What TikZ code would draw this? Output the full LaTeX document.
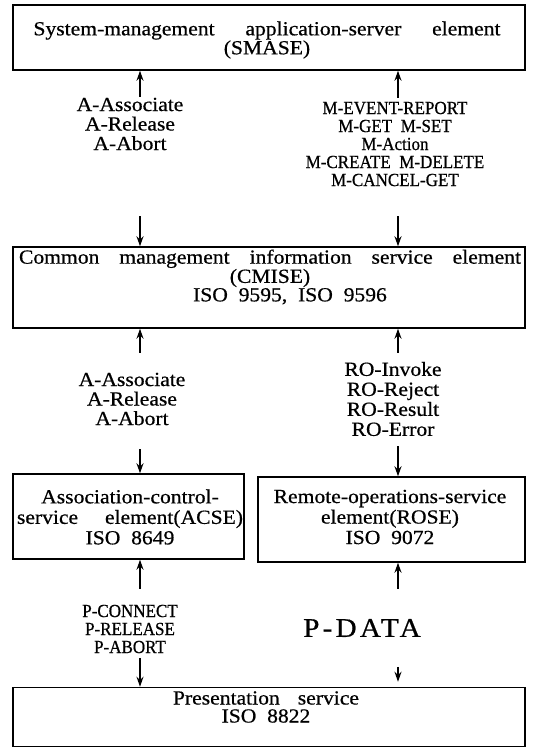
\documentclass[tikz,border=0pt]{standalone}
\usepackage{fontspec}
\setmainfont[FakeStretch=1.08,FakeBold=0.6]{Liberation Serif}
\newfontfamily\capfont[FakeStretch=0.92,FakeBold=0.6]{Liberation Serif}
\usetikzlibrary{arrows.meta,calc}
\begin{document}
\begin{tikzpicture}[x=1pt,y=-1pt,>={Stealth[length=10pt,width=7pt]},line width=1.4pt,
    blk/.style={draw,line width=1.5pt,inner sep=0pt},
    txt/.style={inner sep=0pt,align=center,font=\fontsize{20}{#1}\selectfont},
    txt/.default=18,
    capstxt/.style={inner sep=0pt,align=center,font=\capfont\fontsize{18.5}{#1}\selectfont},
    capstxt/.default=18]
    \useasboundingbox (0,0) rectangle (534,748);
    \coordinate (xl) at (140,0);
    \coordinate (xr) at (398,0);
    % boxes
    \node[blk,minimum width=512pt,minimum height=65pt] (smase) at (269,37.5) {};
    \node[blk,minimum width=512pt,minimum height=81pt] (cmise) at (269,287.5) {};
    \node[blk,minimum width=231pt,minimum height=85pt] (acse) at (128.5,516.5) {};
    \node[blk,minimum width=267pt,minimum height=85pt] (rose) at (391.5,519.5) {};
    \node[blk,minimum width=512pt,minimum height=59pt] (pres) at (269,717) {};
    \node[txt=19] (smasetxt) at (267,40) {\makebox[467pt][s]{System-management application-server element}\\(SMASE)};
    \node[txt=16] (cmisetxt) at (270,277) {\makebox[502pt][s]{Common management information service element}\\(CMISE)\\\hspace*{40pt}ISO\ \ 9595,\ \ ISO\ \ 9596};
    \node[txt=20.5] (acsetxt) at (130,517) {Association-control-\\\makebox[226pt][s]{service element(ACSE)}\\ISO\ \ 8649};
    \node[txt=20.5] (rosetxt) at (390,517) {Remote-operations-service\\element(ROSE)\\ISO\ \ 9072};
    \node[txt=18] (prestxt) at (266,707) {\makebox[186pt][s]{Presentation service}\\ISO\ \ 8822};
    % primitives
    \node[txt=19.5] (aserv1) at (130,124) {A-Associate\\A-Release\\A-Abort};
    \node[capstxt] (mserv) at (395,144) {M-EVENT-REPORT\\M-GET\ \ M-SET\\M-Action\\M-CREATE\ \ M-DELETE\\M-CANCEL-GET};
    \node[txt=19.5] (aserv2) at (132,399) {A-Associate\\A-Release\\A-Abort};
    \node[txt=20] (roserv) at (393,399) {RO-Invoke\\RO-Reject\\RO-Result\\RO-Error};
    \node[capstxt] (pserv) at (130,629) {P-CONNECT\\P-RELEASE\\P-ABORT};
    \node[inner sep=0pt,font=\fontsize{27}{27}\selectfont\addfontfeature{LetterSpace=12}] (pdata) at (362,628) {P-DATA};
    % arrows
    \draw[->] ($(smase.south -| xl)+(0,26)$) -- (smase.south -| xl);
    \draw[->] ($(smase.south -| xr)+(0,27)$) -- (smase.south -| xr);
    \draw[->] ($(cmise.north -| xl)+(0,-30)$) -- (cmise.north -| xl);
    \draw[->] ($(cmise.north -| xr)+(0,-30)$) -- (cmise.north -| xr);
    \draw[->] ($(cmise.south -| xl)+(0,24)$) -- (cmise.south -| xl);
    \draw[->] ($(cmise.south -| xr)+(0,24)$) -- (cmise.south -| xr);
    \draw[->] ($(acse.north -| xl)+(0,-24)$) -- (acse.north -| xl);
    \draw[->] ($(rose.north -| xr)+(0,-30)$) -- (rose.north -| xr);
    \draw[->] ($(acse.south -| xl)+(0,29)$) -- (acse.south -| xl);
    \draw[->] ($(rose.south -| xr)+(0,26)$) -- (rose.south -| xr);
    \draw[->] ($(pres.north -| xl)+(0,-29)$) -- (pres.north -| xl);
    \draw[->] ($(pres.north -| xr)+(0,-20)$) -- ($(pres.north -| xr)+(0,-5)$);
\end{tikzpicture}
\end{document}
